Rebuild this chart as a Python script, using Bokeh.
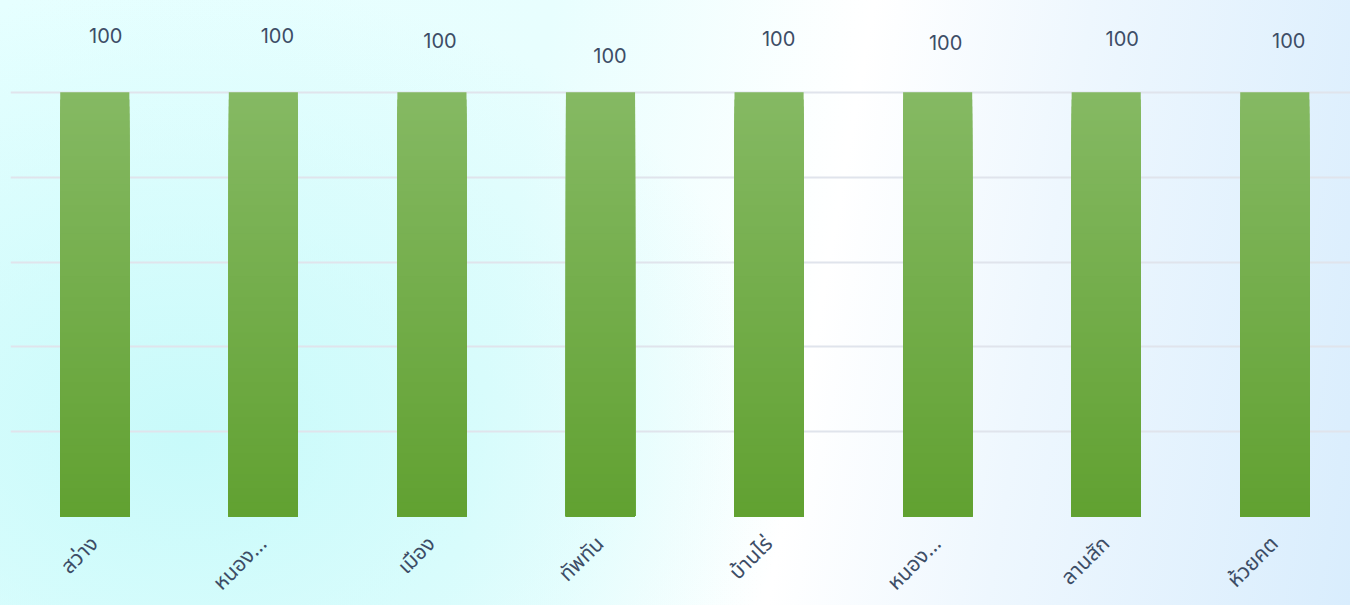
from bokeh.plotting import figure
from bokeh.models import Range1d, FixedTicker
from bokeh.core.properties import value
from bokeh.embed import file_html
from bokeh.resources import INLINE

# ---- data ----
districts = ["สว่าง", "หนอง...", "เมือง", "ทัพทัน", "บ้านไร่", "หนอง...", "ลานสัก", "ห้วยคต"]
values = [100, 100, 100, 100, 100, 100, 100, 100]
y_ticks = [0, 20, 40, 60, 80, 100, 120]

# ---- label styling (pixel offsets of the value labels) ----
label_dx = [11, 14, 8, 9.5, 9.5, 8, 16, 14]
label_dy = [-57, -56.5, -52, -37, -54, -50, -54, -51.5]

TEXT = "#3d4d66"
GRID = "#e0e4ec"
TOP_COL = (0x85, 0xb9, 0x63)
BOT_COL = (0x61, 0xa1, 0x31)

n = len(districts)
xs = list(range(n))

p = figure(frame_width=1340, frame_height=509,
           min_border_left=10, min_border_right=0, min_border_top=7, min_border_bottom=89,
           x_range=Range1d(-0.5, -0.5 + 1340 / 168.57), y_range=Range1d(0, 120),
           output_backend="svg", toolbar_location=None)

p.background_fill_alpha = 0
p.border_fill_alpha = 0
p.outline_line_color = None
p.styles = {"background": "radial-gradient(ellipse 45% 75% at 14% 72%, rgba(200,250,250,1) 0%, rgba(200,250,250,0) 100%), "
                          "linear-gradient(100deg, #e6ffff 0%, #e8fefe 38%, #ffffff 60%, #eef7fe 75%, #d9edfd 100%)"}

# bars: nested bars from the base, tallest first, to give a seamless vertical gradient
N = 60
for i in range(N, 0, -1):
    f0, f1 = (i - 1) / N, i / N
    t = (f0 + f1) / 2
    c = tuple(int(round(BOT_COL[k] + (TOP_COL[k] - BOT_COL[k]) * t)) for k in range(3))
    col = "#%02x%02x%02x" % c
    p.vbar(x=xs, width=0.41, bottom=0, top=[v * f1 for v in values],
           fill_color=col, line_color=None)

# value labels
for i in range(n):
    p.text(x=[xs[i]], y=[values[i]], text=[str(values[i])],
           x_offset=label_dx[i], y_offset=label_dy[i],
           text_align="center", text_baseline="middle",
           text_font=value("Inter"), text_font_size="20px", text_color=TEXT)

# axes
p.yaxis.visible = False
p.xaxis.ticker = FixedTicker(ticks=xs)
p.xaxis.major_label_overrides = {i: districts[i] for i in range(n)}
p.xaxis.major_label_orientation = 0.785398
p.xaxis.axis_line_color = None
p.xaxis.major_tick_line_color = None
p.xaxis.minor_tick_line_color = None
p.xaxis.major_label_standoff = 18
p.xaxis.major_label_text_font = "Noto Sans Thai, Noto Sans"
p.xaxis.major_label_text_font_size = "21px"
p.xaxis.major_label_text_color = TEXT

p.xgrid.visible = False
p.ygrid.ticker = FixedTicker(ticks=y_ticks)
p.ygrid.grid_line_color = GRID
p.ygrid.grid_line_width = 2

open("out.html", "w").write(file_html(p, INLINE))
